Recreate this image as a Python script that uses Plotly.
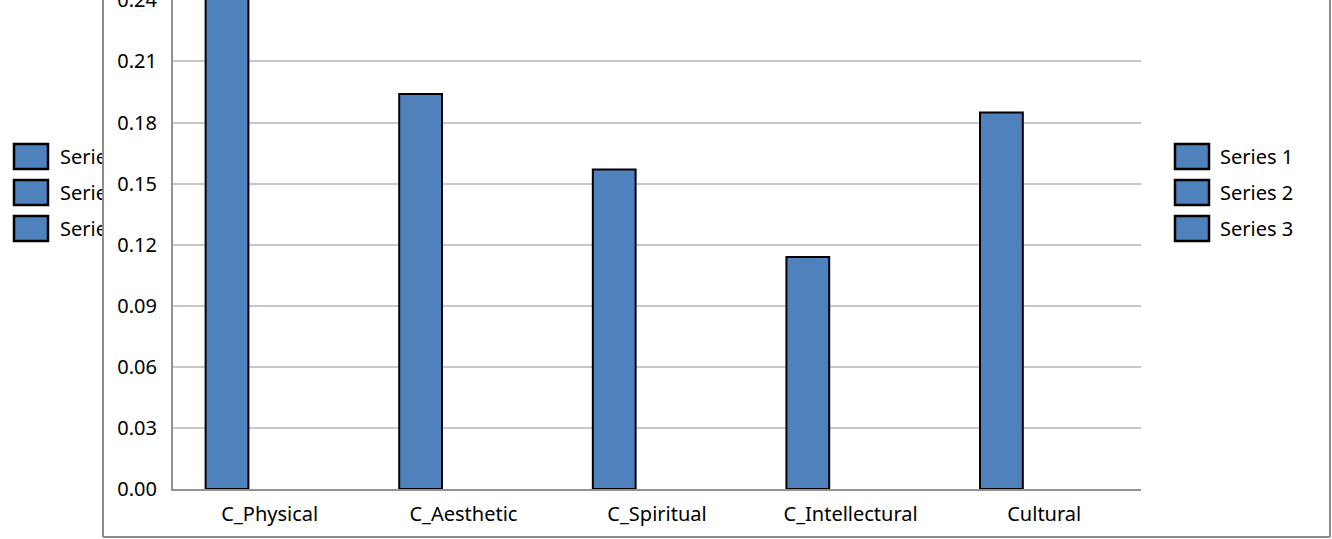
import plotly.graph_objects as go

# --- data -------------------------------------------------------------
categories = ["C_Physical", "C_Aesthetic", "C_Spiritual", "C_Intellectural", "Cultural"]
series_names = ["Series 1", "Series 2", "Series 3"]
series1 = [0.25, 0.194, 0.157, 0.114, 0.185]
series2 = [None, None, None, None, None]
series3 = [None, None, None, None, None]
y_ticks = [0.00, 0.03, 0.06, 0.09, 0.12, 0.15, 0.18, 0.21, 0.24]

# --- page geometry (pixels) -------------------------------------------
W, H = 1332, 539
ML, MR, MT, MB = 173, 191, 0, 50
PW, PH = W - ML - MR, H - MT - MB

BLUE = "#4f81bd"
FRAME = "#8c8c8c"
FONT = "Noto Sans"


def px(x):
    return (x - ML) / PW


def py(y):
    return (H - MB - y) / PH


fig = go.Figure()
for name, vals in zip(series_names, [series1, series2, series3]):
    fig.add_trace(go.Bar(
        x=categories, y=vals, name=name,
        marker=dict(color=BLUE, line=dict(color="black", width=2)),
    ))

shapes = []
annotations = []

# outer panel frame
for x0, y0, x1, y1 in [(103, -5, 103, 537), (103, 537, 1330, 537), (1330, -5, 1330, 537)]:
    shapes.append(dict(type="line", xref="paper", yref="paper",
                       x0=px(x0), y0=py(y0), x1=px(x1), y1=py(y1),
                       line=dict(color=FRAME, width=2)))

# legend swatches and labels (right, and the partly hidden one on the left)
for i, name in enumerate(series_names):
    top = 144 + 36 * i
    bottom = top + 25
    for left in (14, 1175):
        shapes.append(dict(type="rect", xref="paper", yref="paper",
                           x0=px(left), x1=px(left + 34), y0=py(bottom), y1=py(top),
                           fillcolor=BLUE, line=dict(color="black", width=2.5)))
    yc = py((top + bottom) / 2)
    annotations.append(dict(xref="paper", yref="paper", x=px(1218), y=yc,
                            xanchor="left", yanchor="middle", showarrow=False,
                            text=name, font=dict(family=FONT, size=20, color="black")))
    annotations.append(dict(xref="paper", yref="paper", x=px(58), y=yc,
                            xanchor="left", yanchor="middle", showarrow=False,
                            width=42, align="left",
                            text=name, font=dict(family=FONT, size=20, color="black")))

fig.update_layout(
    template="none",
    width=W, height=H,
    margin=dict(l=ML, r=MR, t=MT, b=MB, pad=0),
    paper_bgcolor="white", plot_bgcolor="white",
    barmode="group", bargap=0.337, bargroupgap=0,
    showlegend=False,
    shapes=shapes,
    annotations=annotations,
    xaxis=dict(
        showgrid=False, showline=True, linecolor="#929292", linewidth=2,
        ticks="", ticklabelstandoff=6, automargin=False,
        tickfont=dict(family=FONT, size=20, color="black"),
    ),
    yaxis=dict(
        range=[0, 0.2402], tickvals=y_ticks, tickformat=".2f",
        showgrid=True, gridcolor="#c8c8c8", gridwidth=2,
        zeroline=False, showline=True, linecolor="#929292", linewidth=2,
        ticks="", ticklabelstandoff=10, automargin=False,
        ticklabeloverflow="allow",
        tickfont=dict(family=FONT, size=20, color="black"),
    ),
)

fig.write_html("out.html")
